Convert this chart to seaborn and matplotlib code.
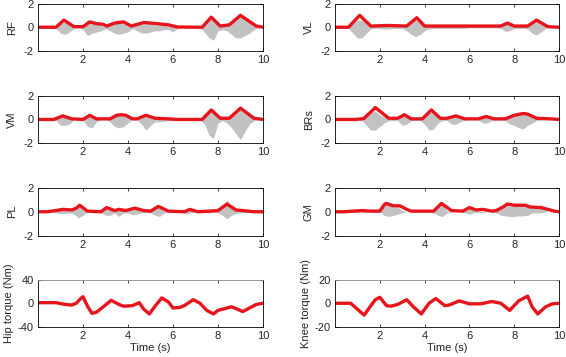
import numpy as np
import pandas as pd
import matplotlib
matplotlib.use("Agg")
import matplotlib.pyplot as plt
import seaborn as sns

# EMG sampling grid for the raw-signal envelopes (every 0.2 s)
emg_t = np.linspace(0, 10, 51)

# ---- raw EMG (grey), lower / upper extent ----
rf_lo = [0, 0, 0, 0, -0.1, -0.5, -0.6, -0.4, -0.1, 0, -0.2, -0.7, -0.5, -0.4, -0.3, -0.1,
         -0.3, -0.5, -0.6, -0.5, -0.4, -0.1, -0.3, -0.5, -0.5, -0.4, -0.3, -0.3, -0.2, -0.2,
         -0.4, -0.1, 0, 0, 0, 0, 0, -0.4, -0.9, -1.1, -0.3, -0.2, -0.3, -0.6, -0.9, -0.9,
         -0.7, -0.5, -0.2, 0, 0]
rf_hi = [0, 0, 0, 0, 0.1, 0.3, 0.4, 0.2, 0.05, 0, 0.2, 0.6, 0.3, 0.3, 0.2, 0.05,
         0.2, 0.3, 0.4, 0.3, 0.3, 0.05, 0.2, 0.3, 0.3, 0.3, 0.2, 0.2, 0.15, 0.1,
         0.2, 0.05, 0, 0, 0, 0, 0, 0.3, 0.7, 0.6, 0.2, 0.1, 0.2, 0.5, 0.8, 1.1,
         0.6, 0.4, 0.1, 0, 0]
vl_lo = [0, 0, 0, -0.1, -0.5, -0.9, -0.9, -0.5, -0.15, -0.1, -0.1, -0.15, -0.15, -0.1, -0.1, -0.1,
         -0.3, -0.6, -0.8, -0.6, -0.3, -0.15, -0.1, -0.1, -0.1, -0.1, -0.1, -0.1, -0.1, -0.1,
         -0.05, -0.05, -0.05, -0.05, -0.05, -0.05, -0.05, -0.1, -0.35, -0.3, -0.1, -0.1, -0.1,
         -0.15, -0.5, -0.65, -0.4, -0.1, 0, 0, 0]
vl_hi = [0, 0, 0, 0.05, 0.3, 0.6, 0.6, 0.3, 0.1, 0.1, 0.15, 0.15, 0.15, 0.1, 0.1, 0.1,
         0.2, 0.4, 0.6, 0.4, 0.2, 0.1, 0.1, 0.1, 0.1, 0.1, 0.1, 0.1, 0.1, 0.1,
         0.1, 0.1, 0.1, 0.1, 0.1, 0.1, 0.1, 0.1, 0.3, 0.3, 0.1, 0.1, 0.1,
         0.1, 0.3, 0.5, 0.3, 0.1, 0, 0, 0]
vm_lo = [0, 0, 0, 0, -0.1, -0.5, -0.5, -0.4, 0, 0, -0.1, -0.6, -0.7, -0.2, 0, 0,
         -0.2, -0.6, -0.7, -0.6, -0.3, 0, -0.05, -0.4, -0.9, -0.5, -0.2, -0.2, -0.15, -0.1,
         -0.1, 0, 0, 0, 0, 0, 0, -0.4, -1.3, -1.6, -0.3, -0.1, -0.3, -0.7, -1.2, -1.7,
         -1.0, -0.4, -0.1, 0, 0]
vm_hi = [0, 0, 0, 0, 0.05, 0.2, 0.25, 0.2, 0, 0, 0.05, 0.3, 0.3, 0.1, 0, 0,
         0.1, 0.3, 0.35, 0.3, 0.15, 0, 0.05, 0.2, 0.3, 0.2, 0.1, 0.1, 0.1, 0.05,
         0.05, 0, 0, 0, 0, 0, 0, 0.3, 0.7, 0.6, 0.2, 0.1, 0.2, 0.5, 0.8, 0.9,
         0.6, 0.3, 0.1, 0, 0]
brs_lo = [0, 0, 0, 0, 0, 0, -0.1, -0.5, -0.9, -0.9, -0.6, -0.3, -0.1, -0.1, -0.1, -0.5,
          -0.4, -0.1, -0.05, -0.1, -0.4, -0.9, -0.8, -0.3, -0.1, -0.1, -0.4, -0.4, -0.2, -0.05,
          0, 0, -0.05, -0.3, -0.3, -0.1, -0.05, -0.05, -0.1, -0.4, -0.5, -0.7, -0.8, -0.5,
          -0.3, -0.1, -0.05, 0, 0, 0, 0]
brs_hi = [0, 0, 0, 0, 0, 0, 0.05, 0.3, 0.6, 0.7, 0.4, 0.2, 0.1, 0.1, 0.1, 0.3,
          0.3, 0.05, 0.05, 0.1, 0.3, 0.6, 0.6, 0.2, 0.1, 0.1, 0.2, 0.25, 0.1, 0.05,
          0, 0, 0.05, 0.2, 0.2, 0.05, 0.05, 0.05, 0.1, 0.3, 0.4, 0.5, 0.5, 0.4,
          0.2, 0.1, 0.05, 0, 0, 0, 0]
pl_lo = [0, 0, 0, 0, -0.1, -0.15, -0.15, -0.1, -0.2, -0.5, -0.3, 0, 0, 0, -0.1, -0.3,
         -0.3, -0.1, -0.4, -0.1, -0.1, -0.25, -0.2, -0.1, -0.05, -0.1, -0.3, -0.4, -0.1, 0,
         0, 0, 0, -0.2, -0.1, 0, 0, 0, -0.1, -0.05, -0.1, -0.3, -0.6, -0.3, -0.15, -0.1,
         -0.05, 0, 0, 0, 0]
pl_hi = [0, 0, 0, 0, 0.1, 0.15, 0.15, 0.1, 0.2, 0.5, 0.2, 0, 0, 0, 0.1, 0.3,
         0.2, 0.1, 0.3, 0.1, 0.1, 0.2, 0.2, 0.1, 0.05, 0.1, 0.3, 0.4, 0.1, 0,
         0, 0, 0, 0.15, 0.1, 0, 0, 0, 0.1, 0.05, 0.1, 0.4, 1.0, 0.4, 0.15, 0.1,
         0.05, 0, 0, 0, 0]
gm_lo = [0, 0, 0, 0, -0.05, -0.05, -0.05, -0.05, 0, 0, 0, -0.3, -0.4, -0.3, -0.2, -0.1,
         0, 0, 0, 0, 0, 0, -0.1, -0.3, -0.4, -0.1, 0, 0, 0, -0.1,
         -0.2, -0.1, -0.05, -0.05, 0, 0, -0.1, -0.3, -0.35, -0.4, -0.4, -0.35, -0.35, -0.3,
         -0.1, -0.1, -0.1, 0, 0, 0, 0]
gm_hi = [0, 0, 0, 0, 0.05, 0.05, 0.05, 0.05, 0, 0, 0, 0.9, 0.6, 0.4, 0.4, 0.1,
         0, 0, 0, 0, 0, 0, 0.1, 0.5, 0.6, 0.1, 0, 0, 0, 0.1,
         0.3, 0.1, 0.05, 0.05, 0, 0, 0.1, 0.4, 0.5, 0.5, 0.5, 0.5, 0.5, 0.4,
         0.3, 0.4, 0.6, 0.1, 0, 0, 0]

# ---- linear envelopes (red) ----
rf_env_t = [0, 0.8, 1.15, 1.6, 2.0, 2.3, 2.6, 2.9, 3.05, 3.4, 3.8, 4.15, 4.7, 5.3, 5.8, 6.2, 7.3, 7.7, 8.1, 8.5, 9.0, 9.7, 10]
rf_env = [0, 0, 0.6, 0.05, 0.05, 0.45, 0.3, 0.25, 0.1, 0.35, 0.45, 0.1, 0.4, 0.3, 0.2, 0.02, 0, 0.85, 0.1, 0.2, 1.0, 0.1, 0]
vl_env_t = [0, 0.6, 1.1, 1.6, 2.4, 3.2, 3.65, 4.0, 7.4, 7.7, 8.0, 8.6, 9.0, 9.5, 10]
vl_env = [0, 0, 1.0, 0.1, 0.15, 0.1, 0.8, 0.1, 0.1, 0.35, 0.1, 0.1, 0.6, 0.05, 0]
vm_env_t = [0, 0.7, 1.1, 1.5, 2.0, 2.3, 2.6, 3.2, 3.5, 3.7, 3.9, 4.2, 4.4, 4.8, 5.2, 5.8, 6.2, 7.3, 7.7, 8.1, 8.5, 9.0, 9.6, 10]
vm_env = [0, 0, 0.3, 0.05, 0, 0.35, 0.05, 0.05, 0.35, 0.4, 0.35, 0.05, 0.05, 0.35, 0.1, 0.05, 0, 0, 0.8, 0.1, 0.1, 0.95, 0.1, 0]
brs_env_t = [0, 0.9, 1.2, 1.3, 1.8, 2.4, 2.8, 3.1, 3.4, 3.9, 4.3, 4.7, 5.0, 5.4, 5.8, 6.4, 6.75, 7.1, 7.6, 8.0, 8.4, 8.6, 9.0, 9.6, 10]
brs_env = [0, 0, 0.05, 0.1, 1.0, 0.1, 0.1, 0.4, 0.05, 0.05, 0.8, 0.1, 0.1, 0.3, 0.05, 0.05, 0.25, 0.05, 0.05, 0.35, 0.5, 0.45, 0.1, 0.05, 0]
pl_env_t = [0, 0.4, 0.8, 1.1, 1.5, 1.7, 1.85, 2.2, 2.8, 3.05, 3.4, 3.6, 3.9, 4.3, 4.7, 5.0, 5.35, 5.8, 6.5, 6.75, 7.1, 7.6, 8.0, 8.4, 8.8, 9.1, 9.6, 10]
pl_env = [0, 0, 0.1, 0.2, 0.15, 0.3, 0.55, 0.05, 0, 0.35, 0.1, 0.2, 0.1, 0.3, 0.1, 0.05, 0.45, 0.05, 0, 0.2, 0, 0.05, 0.1, 0.65, 0.15, 0.1, 0, 0]
gm_env_t = [0, 0.4, 0.8, 1.2, 1.6, 2.0, 2.2, 2.3, 2.6, 2.9, 3.2, 3.4, 4.4, 4.75, 5.2, 5.7, 6.0, 6.3, 6.6, 7.0, 7.2, 7.5, 7.7, 8.0, 8.5, 8.7, 9.2, 9.5, 9.8, 10]
gm_env = [0, 0, 0.05, 0.1, 0.05, 0.05, 0.6, 0.7, 0.5, 0.5, 0.2, 0.05, 0.05, 0.7, 0.1, 0.05, 0.35, 0.15, 0.2, 0.05, 0.1, 0.4, 0.65, 0.55, 0.55, 0.4, 0.35, 0.2, 0.05, 0]

# ---- joint torques ----
hip_t = [0, 0.8, 1.2, 1.5, 1.7, 1.9, 2.0, 2.2, 2.4, 2.6, 3.0, 3.25, 3.6, 3.8, 4.2, 4.5, 4.7, 4.95, 5.2, 5.5,
         5.8, 6.0, 6.3, 6.5, 6.9, 7.2, 7.5, 7.8, 8.0, 8.3, 8.6, 8.8, 9.1, 9.4, 9.7, 10]
hip_torque = [1, 1, -2, -3, 0, 8, 11, -5, -17, -15, -3, 5, -2, -5, -4, 1, -10, -18, -5, 9,
              2, -8, -7, -4, 6, 0, -12, -18, -12, -9, -6, -9, -14, -8, -2, 0]
knee_t = [0, 0.7, 1.0, 1.3, 1.6, 1.8, 2.0, 2.3, 2.5, 2.8, 3.2, 3.5, 3.85, 4.2, 4.5, 4.9, 5.1, 5.55, 6.0, 6.5,
          7.0, 7.4, 7.8, 8.2, 8.6, 8.8, 9.05, 9.4, 9.7, 10]
knee_torque = [0, 0, -5, -10, -2, 3, 5, -2, -2.5, -1, 3, -3, -9, 0, 4, -2, -1.5, 2, -0.5, -0.5,
               1.5, 0, -6, 2, 6, -3, -9, -3, -0.5, 0]

emg_panels = [
    ('RF', rf_lo, rf_hi, rf_env_t, rf_env),
    ('VL', vl_lo, vl_hi, vl_env_t, vl_env),
    ('VM', vm_lo, vm_hi, vm_env_t, vm_env),
    ('BRs', brs_lo, brs_hi, brs_env_t, brs_env),
    ('PL', pl_lo, pl_hi, pl_env_t, pl_env),
    ('GM', gm_lo, gm_hi, gm_env_t, gm_env),
]

sns.set_style("ticks")
plt.rcParams['font.family'] = ['Liberation Sans', 'DejaVu Sans']
plt.rcParams['font.size'] = 8
plt.rcParams['axes.unicode_minus'] = False
plt.rcParams['axes.linewidth'] = 0.6
plt.rcParams['xtick.direction'] = 'in'
plt.rcParams['ytick.direction'] = 'in'
plt.rcParams['xtick.major.size'] = 2.5
plt.rcParams['ytick.major.size'] = 2.5
plt.rcParams['xtick.major.width'] = 0.6
plt.rcParams['ytick.major.width'] = 0.6

red = '#e8141c'
grey = '#c2c2c2'

fig = plt.figure(figsize=(5.66, 3.57), dpi=100)
W, H = 566, 357
col_x = [38, 335]
col_w = [225, 224]
row_top = [3.5, 95.7, 188, 279.5]
ax_h = 47.5


def make_ax(r, c):
    return fig.add_axes([col_x[c] / W, 1 - (row_top[r] + ax_h) / H, col_w[c] / W, ax_h / H])


def style_ax(ax, ylim, yticks):
    ax.set_xlim(0, 10)
    ax.set_ylim(*ylim)
    ax.set_xticks([2, 4, 6, 8, 10])
    ax.set_yticks(yticks)
    ax.tick_params(top=True, right=True, labelsize=8, pad=3)
    for s in ax.spines.values():
        s.set_visible(True)
        s.set_color('black')
    ax.set_xlabel('')


for k, (name, lo, hi, env_t, env) in enumerate(emg_panels):
    ax = make_ax(k // 2, k % 2)
    ax.fill_between(emg_t, lo, hi, color=grey, lw=0)
    sns.lineplot(x=env_t, y=env, ax=ax, color=red, lw=2.4)
    style_ax(ax, (-2, 2), [-2, 0, 2])
    ax.set_ylabel(name, fontsize=8, labelpad=5)

ax = make_ax(3, 0)
sns.lineplot(x=hip_t, y=hip_torque, ax=ax, color=red, lw=2.4)
style_ax(ax, (-40, 40), [-40, 0, 40])
ax.spines['top'].set_color('#888888')
ax.set_ylabel('Hip torque (Nm)', fontsize=8, labelpad=3)
ax.set_xlabel('Time (s)', fontsize=8, labelpad=1)

ax = make_ax(3, 1)
sns.lineplot(x=knee_t, y=knee_torque, ax=ax, color=red, lw=2.4)
style_ax(ax, (-20, 20), [-20, 0, 20])
ax.spines['top'].set_color('#888888')
ax.set_ylabel('Knee torque (Nm)', fontsize=8, labelpad=3)
ax.set_xlabel('Time (s)', fontsize=8, labelpad=1)

fig.savefig('out.png', dpi=100)
